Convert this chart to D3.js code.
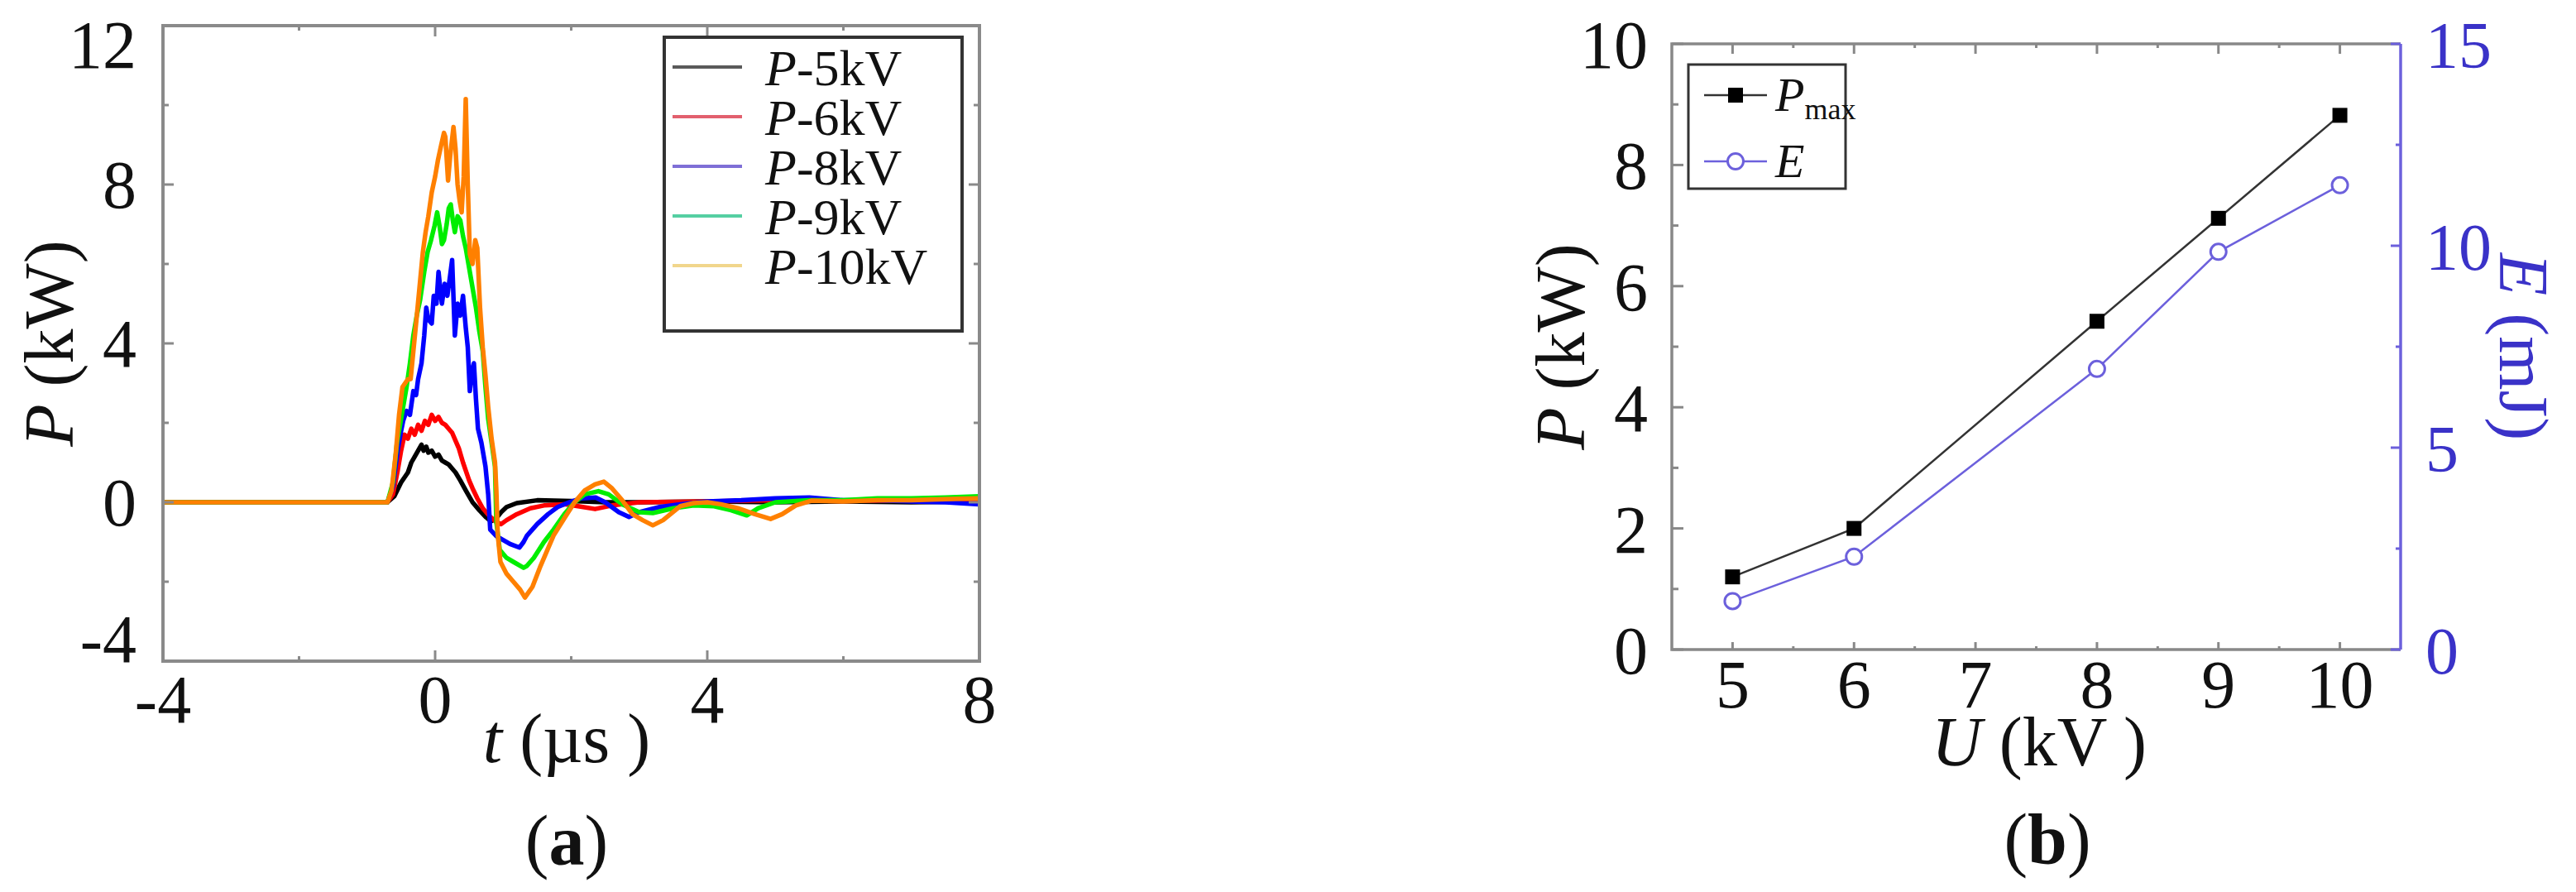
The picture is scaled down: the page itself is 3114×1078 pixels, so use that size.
<!DOCTYPE html>
<html><head><meta charset="utf-8">
<script src="https://cdn.jsdelivr.net/npm/d3@7"></script>
<style>
body{margin:0;background:#fff}
svg{display:block}
text{font-family:"Liberation Serif","Times New Roman",serif}
</style>
</head><body>
<svg id="c" width="3114" height="1078"></svg>
<script>
// ---------------- DATA ----------------
// Panel (a): discharge power traces, [t (µs), P (kW)]
const trace5kV = [[-4,0],[-0.7,0],[-0.6,0.15],[-0.5,0.5],[-0.4,0.75],[-0.35,1.0],[-0.3,1.15],[-0.25,1.3],[-0.2,1.45],[-0.17,1.3],[-0.13,1.4],[-0.1,1.25],[-0.05,1.3],[0,1.15],[0.05,1.2],[0.1,1.05],[0.15,1.0],[0.2,0.95],[0.25,0.85],[0.3,0.75],[0.37,0.55],[0.45,0.3],[0.55,0.0],[0.65,-0.2],[0.75,-0.38],[0.82,-0.48],[0.9,-0.4],[0.97,-0.25],[1.05,-0.12],[1.2,-0.02],[1.5,0.05],[2.0,0.03],[2.5,0.0],[3,0.0],[4,0.02],[5,0.0],[6,0.02],[7,0.0],[8,0.02]];
const trace6kV = [[-4,0],[-0.7,0],[-0.62,0.2],[-0.55,0.8],[-0.5,1.3],[-0.45,1.7],[-0.4,1.6],[-0.35,1.85],[-0.3,1.7],[-0.25,1.95],[-0.2,1.8],[-0.15,2.05],[-0.1,1.95],[-0.05,2.2],[0,2.05],[0.05,2.15],[0.1,2.0],[0.15,1.95],[0.2,1.85],[0.25,1.75],[0.3,1.55],[0.35,1.35],[0.41,1.0],[0.45,0.8],[0.5,0.55],[0.55,0.35],[0.62,0.1],[0.7,-0.15],[0.8,-0.35],[0.9,-0.5],[0.97,-0.55],[1.05,-0.45],[1.2,-0.3],[1.4,-0.15],[1.6,-0.08],[1.9,-0.05],[2.1,-0.1],[2.35,-0.17],[2.6,-0.08],[3,0],[4,0.02],[5,0.05],[6,0.03],[7,0.05],[8,0.05]];
const trace8kV = [[-4,0],[-0.7,0],[-0.62,0.4],[-0.55,1.3],[-0.5,1.8],[-0.47,2.05],[-0.42,2.3],[-0.37,2.2],[-0.32,2.8],[-0.28,2.7],[-0.25,3.1],[-0.2,3.5],[-0.16,4.2],[-0.13,4.9],[-0.1,4.6],[-0.05,4.5],[-0.02,5.2],[0.02,5.0],[0.05,5.8],[0.08,5.3],[0.1,5.0],[0.14,5.5],[0.18,5.2],[0.22,5.7],[0.25,6.1],[0.29,4.2],[0.33,5.0],[0.37,4.7],[0.41,5.2],[0.45,4.4],[0.48,3.9],[0.51,2.8],[0.54,3.3],[0.57,3.5],[0.6,2.6],[0.63,1.85],[0.68,1.5],[0.74,0.9],[0.78,0.2],[0.81,-0.69],[0.9,-0.85],[1.0,-0.95],[1.1,-1.05],[1.24,-1.14],[1.3,-1.0],[1.35,-0.84],[1.5,-0.55],[1.66,-0.3],[1.8,-0.12],[1.97,0],[2.15,0.1],[2.36,0.12],[2.5,0.0],[2.7,-0.25],[2.85,-0.37],[3.0,-0.25],[3.3,-0.12],[3.6,-0.05],[4,0.02],[4.5,0.05],[5,0.1],[5.5,0.12],[6,0.05],[6.5,0.05],[7,0.02],[7.5,0.0],[8,-0.05]];
const trace9kV = [[-4,0],[-0.7,0],[-0.62,0.5],[-0.56,1.5],[-0.5,2.1],[-0.47,2.4],[-0.42,2.9],[-0.37,3.5],[-0.32,4.2],[-0.27,4.7],[-0.22,5.1],[-0.16,5.8],[-0.11,6.3],[-0.06,6.6],[-0.01,6.95],[0.03,7.3],[0.07,6.9],[0.1,6.5],[0.13,6.6],[0.17,7.0],[0.2,7.4],[0.23,7.5],[0.26,7.1],[0.29,6.8],[0.33,7.2],[0.37,7.1],[0.41,6.7],[0.45,6.4],[0.5,5.9],[0.55,5.4],[0.6,4.9],[0.65,4.3],[0.7,3.8],[0.74,2.9],[0.78,2.1],[0.83,1.5],[0.88,0.9],[0.9,-0.5],[0.95,-1.2],[1.05,-1.4],[1.15,-1.5],[1.3,-1.65],[1.35,-1.6],[1.45,-1.4],[1.6,-1.0],[1.74,-0.69],[1.9,-0.3],[2.05,0],[2.2,0.2],[2.4,0.28],[2.55,0.2],[2.75,-0.05],[3.0,-0.25],[3.2,-0.27],[3.5,-0.15],[3.8,-0.08],[4.1,-0.1],[4.35,-0.2],[4.58,-0.33],[4.75,-0.15],[5.0,0.0],[5.5,0.05],[6,0.05],[6.5,0.1],[7,0.1],[7.5,0.12],[8,0.15]];
const trace10kV = [[-4,0],[-0.7,0],[-0.64,0.3],[-0.58,1.2],[-0.53,2.2],[-0.48,2.9],[-0.44,3.0],[-0.4,3.1],[-0.36,3.1],[-0.32,3.8],[-0.28,4.5],[-0.23,5.4],[-0.18,6.3],[-0.14,6.8],[-0.1,7.2],[-0.05,7.8],[0,8.2],[0.04,8.6],[0.09,9.0],[0.13,9.3],[0.15,9.2],[0.19,8.1],[0.22,8.7],[0.27,9.45],[0.3,8.9],[0.33,8.0],[0.36,7.6],[0.39,7.3],[0.42,8.2],[0.45,10.15],[0.48,8.0],[0.51,6.25],[0.55,6.0],[0.59,6.6],[0.62,6.4],[0.66,4.9],[0.7,3.9],[0.74,3.2],[0.78,2.4],[0.83,1.6],[0.88,1.0],[0.9,0.3],[0.92,-0.8],[0.96,-1.5],[1.05,-1.8],[1.15,-2.0],[1.25,-2.2],[1.32,-2.4],[1.36,-2.3],[1.43,-2.13],[1.55,-1.6],[1.65,-1.2],[1.74,-0.84],[1.9,-0.4],[2.05,0],[2.2,0.3],[2.35,0.45],[2.48,0.52],[2.6,0.35],[2.75,0.05],[2.9,-0.3],[3.05,-0.45],[3.2,-0.58],[3.35,-0.45],[3.6,-0.1],[3.8,-0.02],[4.0,0.0],[4.2,-0.05],[4.45,-0.15],[4.7,-0.3],[4.93,-0.42],[5.1,-0.3],[5.3,-0.08],[5.53,0.04],[6,0.02],[6.5,0.05],[7,0.05],[7.5,0.08],[8,0.1]];
const traceLabels = ["5kV","6kV","8kV","9kV","10kV"];
const traceColors = ["#000000","#ff0000","#0000ff","#00ee00","#ff8000"];
const legendColors = ["#5a5a5a","#e2606e","#7f6fd6","#55cfa2","#f1d68c"];
const aXTicks = [-4,0,4,8], aXMinor = [-2,2,6];
const aYTicks = [-4,0,4,8,12], aYMinor = [-2,2,6,10];

// Panel (b): peak power and energy vs voltage
const U = [5,6,8,9,10];
const Pmax = [1.2,2.0,5.42,7.12,8.82];
const E = [1.2,2.3,6.95,9.85,11.5];
const bXTicks = [5,6,7,8,9,10], bXMinor = [5.5,6.5,7.5,8.5,9.5];
const bYTicks = [0,2,4,6,8,10], bYMinor = [1,3,5,7,9];
const bETicks = [0,5,10,15], bEMinor = [2.5,7.5,12.5];

// ---------------- DRAW ----------------
const svg = d3.select("#c");
const TXT = "#111";
const BLUE = "#3a32c8";
const BLUE_LINE = "#6c60dc";

function tickLines(g, vals, fn, color, w){
  g.selectAll(null).data(vals).enter().append("line")
    .each(function(d){ const c = fn(d); d3.select(this).attr("x1",c[0]).attr("y1",c[1]).attr("x2",c[2]).attr("y2",c[3]); })
    .attr("stroke",color).attr("stroke-width",w);
}

// ===== Panel (a) =====
const xa = d3.scaleLinear().domain([-4,8]).range([197,1184]);
const ya = d3.scaleLinear().domain([-4,12]).range([799,31]);
const ga = svg.append("g");
ga.append("clipPath").attr("id","clipA").append("rect")
  .attr("x",xa(-4)).attr("y",ya(12)).attr("width",xa(8)-xa(-4)).attr("height",ya(-4)-ya(12));
const lineA = d3.line().x(d=>xa(d[0])).y(d=>ya(d[1]));
const traces = [trace5kV,trace6kV,trace8kV,trace9kV,trace10kV];
const gt = ga.append("g").attr("clip-path","url(#clipA)");
traces.forEach((tr,i)=>{
  gt.append("path").datum(tr).attr("d",lineA).attr("fill","none")
    .attr("stroke",traceColors[i]).attr("stroke-width",5.5).attr("stroke-linejoin","round");
});
// frame
const frameA = "#8a8a8a";
ga.append("rect").attr("x",xa(-4)).attr("y",ya(12)).attr("width",xa(8)-xa(-4)).attr("height",ya(-4)-ya(12))
  .attr("fill","none").attr("stroke",frameA).attr("stroke-width",4);
// ticks (inward)
const aB = ya(-4), aT = ya(12), aL = xa(-4), aR = xa(8);
tickLines(ga, aXTicks, v=>[xa(v),aB,xa(v),aB-13], frameA, 3);
tickLines(ga, aXMinor, v=>[xa(v),aB,xa(v),aB-6], frameA, 3);
tickLines(ga, aXTicks, v=>[xa(v),aT,xa(v),aT+13], frameA, 3);
tickLines(ga, aXMinor, v=>[xa(v),aT,xa(v),aT+6], frameA, 3);
tickLines(ga, aYTicks, v=>[aL,ya(v),aL+13,ya(v)], frameA, 3);
tickLines(ga, aYMinor, v=>[aL,ya(v),aL+7,ya(v)], frameA, 3);
tickLines(ga, aYTicks, v=>[aR,ya(v),aR-13,ya(v)], frameA, 3);
tickLines(ga, aYMinor, v=>[aR,ya(v),aR-7,ya(v)], frameA, 3);
// tick labels
ga.selectAll(null).data(aXTicks).enter().append("text")
  .attr("x",d=>xa(d)).attr("y",aB+74).attr("text-anchor","middle")
  .attr("font-size",82).attr("fill",TXT).text(d=>d);
ga.selectAll(null).data(aYTicks).enter().append("text")
  .attr("x",165).attr("y",d=>Math.max(aT+51, Math.min(aB+1, ya(d)+28))).attr("text-anchor","end")
  .attr("font-size",82).attr("fill",TXT).text(d=>d);
// axis titles
const tA = ga.append("text").attr("x",685).attr("y",921).attr("text-anchor","middle").attr("font-size",84).attr("fill",TXT);
tA.append("tspan").attr("font-style","italic").text("t");
tA.append("tspan").text(" (µs )");
const pA = ga.append("text").attr("transform",`translate(88,${(aT+aB)/2}) rotate(-90)`).attr("text-anchor","middle").attr("font-size",84).attr("fill",TXT);
pA.append("tspan").attr("font-style","italic").text("P");
pA.append("tspan").text(" (kW)");
const capA = ga.append("text").attr("x",685).attr("y",1045).attr("text-anchor","middle").attr("font-size",86).attr("fill",TXT);
capA.append("tspan").text("(");
capA.append("tspan").attr("font-weight","bold").text("a");
capA.append("tspan").text(")");
// legend (a)
const legA = ga.append("g");
legA.append("rect").attr("x",803).attr("y",45).attr("width",360).attr("height",355)
  .attr("fill","#fff").attr("stroke","#333").attr("stroke-width",4);
traceLabels.forEach((lab,i)=>{
  const by = 103 + i*60;
  legA.append("line").attr("x1",813).attr("x2",897).attr("y1",by-22).attr("y2",by-22)
    .attr("stroke",legendColors[i]).attr("stroke-width",4);
  const t = legA.append("text").attr("x",925).attr("y",by).attr("font-size",62).attr("fill",TXT);
  t.append("tspan").attr("font-style","italic").text("P");
  t.append("tspan").text("-"+lab);
});

// ===== Panel (b) =====
const xb = d3.scaleLinear().domain([4.5,10.5]).range([2021,2902]);
const yb = d3.scaleLinear().domain([0,10]).range([785,53]);
const ye = d3.scaleLinear().domain([0,15]).range([785,53]);
const gb = svg.append("g");
const bL = xb(4.5), bR = xb(10.5), bT = yb(10), bB = yb(0);
const frameB = "#888";
gb.append("path").attr("d",`M${bR},${bT}H${bL}V${bB}H${bR}`).attr("fill","none").attr("stroke",frameB).attr("stroke-width",3.5);
gb.append("line").attr("x1",bR).attr("x2",bR).attr("y1",bT).attr("y2",bB).attr("stroke",BLUE_LINE).attr("stroke-width",3.5);
tickLines(gb, bXTicks, v=>[xb(v),bB,xb(v),bB-9], frameB, 3);
tickLines(gb, bXMinor, v=>[xb(v),bB,xb(v),bB-4], frameB, 3);
tickLines(gb, bXTicks, v=>[xb(v),bT,xb(v),bT+12], frameB, 3);
tickLines(gb, bXMinor, v=>[xb(v),bT,xb(v),bT+5], frameB, 3);
tickLines(gb, bYTicks, v=>[bL,yb(v),bL+14,yb(v)], frameB, 3);
tickLines(gb, bYMinor, v=>[bL,yb(v),bL+8,yb(v)], frameB, 3);
tickLines(gb, bETicks, v=>[bR,ye(v),bR-12,ye(v)], BLUE_LINE, 3);
tickLines(gb, bEMinor, v=>[bR,ye(v),bR-6,ye(v)], BLUE_LINE, 3);
// lines and markers
const lineP = d3.line().x((d,i)=>xb(U[i])).y(d=>yb(d));
const lineE = d3.line().x((d,i)=>xb(U[i])).y(d=>ye(d));
gb.append("path").datum(Pmax).attr("d",lineP).attr("fill","none").attr("stroke","#333").attr("stroke-width",2.5);
gb.append("path").datum(E).attr("d",lineE).attr("fill","none").attr("stroke",BLUE_LINE).attr("stroke-width",2.5);
gb.selectAll(null).data(Pmax).enter().append("rect")
  .attr("x",(d,i)=>xb(U[i])-9).attr("y",d=>yb(d)-9).attr("width",18).attr("height",18).attr("fill","#000");
gb.selectAll(null).data(E).enter().append("circle")
  .attr("cx",(d,i)=>xb(U[i])).attr("cy",d=>ye(d)).attr("r",9.5)
  .attr("fill","#fff").attr("stroke",BLUE_LINE).attr("stroke-width",3);
// tick labels
gb.selectAll(null).data(bXTicks).enter().append("text")
  .attr("x",d=>xb(d)).attr("y",bB+70).attr("text-anchor","middle")
  .attr("font-size",82).attr("fill",TXT).text(d=>d);
gb.selectAll(null).data(bYTicks).enter().append("text")
  .attr("x",1992).attr("y",d=>yb(d)+29).attr("text-anchor","end")
  .attr("font-size",82).attr("fill",TXT).text(d=>d);
gb.selectAll(null).data(bETicks).enter().append("text")
  .attr("x",2932).attr("y",d=>ye(d)+29).attr("text-anchor","start")
  .attr("font-size",80).attr("fill",BLUE).text(d=>d);
// titles
const uB = gb.append("text").attr("x",2465).attr("y",925).attr("text-anchor","middle").attr("font-size",84).attr("fill",TXT);
uB.append("tspan").attr("font-style","italic").text("U");
uB.append("tspan").text(" (kV )");
const pB = gb.append("text").attr("transform",`translate(1915,${(bT+bB)/2}) rotate(-90)`).attr("text-anchor","middle").attr("font-size",84).attr("fill",TXT);
pB.append("tspan").attr("font-style","italic").text("P");
pB.append("tspan").text(" (kW)");
const eB = gb.append("text").attr("transform",`translate(3022,${(bT+bB)/2}) rotate(90)`).attr("text-anchor","middle").attr("font-size",84).attr("fill",BLUE);
eB.append("tspan").attr("font-style","italic").text("E");
eB.append("tspan").text(" (mJ)");
const capB = gb.append("text").attr("x",2475).attr("y",1043).attr("text-anchor","middle").attr("font-size",86).attr("fill",TXT);
capB.append("tspan").text("(");
capB.append("tspan").attr("font-weight","bold").text("b");
capB.append("tspan").text(")");
// legend (b)
const legB = gb.append("g");
legB.append("rect").attr("x",2041).attr("y",78).attr("width",190).attr("height",150)
  .attr("fill","#fff").attr("stroke","#333").attr("stroke-width",3);
legB.append("line").attr("x1",2060).attr("x2",2136).attr("y1",115).attr("y2",115).attr("stroke","#333").attr("stroke-width",2.5);
legB.append("rect").attr("x",2089).attr("y",106).attr("width",18).attr("height",18).attr("fill","#000");
legB.append("line").attr("x1",2060).attr("x2",2136).attr("y1",195).attr("y2",195).attr("stroke",BLUE_LINE).attr("stroke-width",2.5);
legB.append("circle").attr("cx",2098).attr("cy",195).attr("r",9.5).attr("fill","#fff").attr("stroke",BLUE_LINE).attr("stroke-width",3);
const lp = legB.append("text").attr("x",2146).attr("y",134).attr("font-size",58).attr("fill",TXT);
lp.append("tspan").attr("font-style","italic").text("P");
lp.append("tspan").attr("font-size",36).attr("dy",10).text("max");
legB.append("text").attr("x",2146).attr("y",214).attr("font-size",58).attr("font-style","italic").attr("fill",TXT).text("E");
</script>
</body></html>
